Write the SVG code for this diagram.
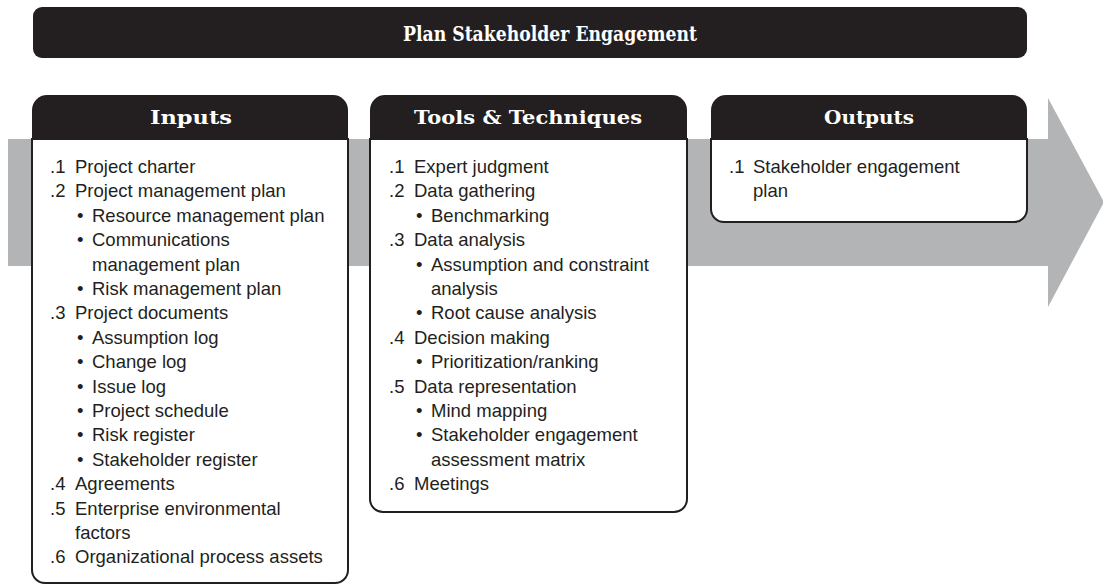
<svg xmlns="http://www.w3.org/2000/svg" width="1103" height="585" viewBox="0 0 1103 585">
<style>
.dark{fill:#231f20}
.body{fill:#ffffff;stroke:#231f20;stroke-width:2}
.ttl{font-family:"DejaVu Serif","Liberation Serif",serif;font-weight:bold;fill:#ffffff;text-anchor:middle}
.t{font-family:"Liberation Sans",Arial,sans-serif;font-size:18.5px;fill:#231f20}
</style>
<rect width="1103" height="585" fill="#ffffff"/>
<g id="flow-arrow">
<path d="M8,139 H1048 V98 L1104,202 L1048,307 V266 H8 Z" fill="#b3b4b6"/>
</g>
<g id="title">
<rect x="33" y="7" width="994" height="51" rx="9" class="dark"/>
<text x="550" y="41" class="ttl" font-size="21" textLength="294" lengthAdjust="spacingAndGlyphs">Plan Stakeholder Engagement</text>
</g>
<g id="inputs">
<path d="M32,139 V570 A13,13 0 0 0 45,583 H335 A13,13 0 0 0 348,570 V139 Z" class="body"/>
<path d="M32,140 V110 A15,15 0 0 1 47,95 H333 A15,15 0 0 1 348,110 V140 Z" class="dark"/>
<text x="191" y="124" class="ttl" font-size="19" textLength="82" lengthAdjust="spacingAndGlyphs">Inputs</text>
<text class="t">
<tspan x="50" y="173">.1</tspan><tspan x="75" y="173">Project charter</tspan>
<tspan x="50" y="197.4">.2</tspan><tspan x="75" y="197.4">Project management plan</tspan>
<tspan x="77" y="221.8">•</tspan><tspan x="92" y="221.8">Resource management plan</tspan>
<tspan x="77" y="246.2">•</tspan><tspan x="92" y="246.2">Communications</tspan>
<tspan x="92" y="270.6">management plan</tspan>
<tspan x="77" y="295">•</tspan><tspan x="92" y="295">Risk management plan</tspan>
<tspan x="50" y="319.4">.3</tspan><tspan x="75" y="319.4">Project documents</tspan>
<tspan x="77" y="343.8">•</tspan><tspan x="92" y="343.8">Assumption log</tspan>
<tspan x="77" y="368.2">•</tspan><tspan x="92" y="368.2">Change log</tspan>
<tspan x="77" y="392.6">•</tspan><tspan x="92" y="392.6">Issue log</tspan>
<tspan x="77" y="417">•</tspan><tspan x="92" y="417">Project schedule</tspan>
<tspan x="77" y="441.4">•</tspan><tspan x="92" y="441.4">Risk register</tspan>
<tspan x="77" y="465.8">•</tspan><tspan x="92" y="465.8">Stakeholder register</tspan>
<tspan x="50" y="490.2">.4</tspan><tspan x="75" y="490.2">Agreements</tspan>
<tspan x="50" y="514.6">.5</tspan><tspan x="75" y="514.6">Enterprise environmental</tspan>
<tspan x="75" y="539">factors</tspan>
<tspan x="50" y="563.4">.6</tspan><tspan x="75" y="563.4">Organizational process assets</tspan>
</text>
</g>
<g id="tools">
<path d="M370,139 V499 A13,13 0 0 0 383,512 H674 A13,13 0 0 0 687,499 V139 Z" class="body"/>
<path d="M370,140 V110 A15,15 0 0 1 385,95 H672 A15,15 0 0 1 687,110 V140 Z" class="dark"/>
<text x="528" y="124" class="ttl" font-size="19" textLength="228" lengthAdjust="spacingAndGlyphs">Tools &amp; Techniques</text>
<text class="t">
<tspan x="389" y="173">.1</tspan><tspan x="414" y="173">Expert judgment</tspan>
<tspan x="389" y="197.4">.2</tspan><tspan x="414" y="197.4">Data gathering</tspan>
<tspan x="416" y="221.8">•</tspan><tspan x="431" y="221.8">Benchmarking</tspan>
<tspan x="389" y="246.2">.3</tspan><tspan x="414" y="246.2">Data analysis</tspan>
<tspan x="416" y="270.6">•</tspan><tspan x="431" y="270.6">Assumption and constraint</tspan>
<tspan x="431" y="295">analysis</tspan>
<tspan x="416" y="319.4">•</tspan><tspan x="431" y="319.4">Root cause analysis</tspan>
<tspan x="389" y="343.8">.4</tspan><tspan x="414" y="343.8">Decision making</tspan>
<tspan x="416" y="368.2">•</tspan><tspan x="431" y="368.2">Prioritization/ranking</tspan>
<tspan x="389" y="392.6">.5</tspan><tspan x="414" y="392.6">Data representation</tspan>
<tspan x="416" y="417">•</tspan><tspan x="431" y="417">Mind mapping</tspan>
<tspan x="416" y="441.4">•</tspan><tspan x="431" y="441.4">Stakeholder engagement</tspan>
<tspan x="431" y="465.8">assessment matrix</tspan>
<tspan x="389" y="490.2">.6</tspan><tspan x="414" y="490.2">Meetings</tspan>
</text>
</g>
<g id="outputs">
<path d="M711,139 V209 A13,13 0 0 0 724,222 H1014 A13,13 0 0 0 1027,209 V139 Z" class="body"/>
<path d="M711,140 V110 A15,15 0 0 1 726,95 H1012 A15,15 0 0 1 1027,110 V140 Z" class="dark"/>
<text x="869" y="124" class="ttl" font-size="19" textLength="90" lengthAdjust="spacingAndGlyphs">Outputs</text>
<text class="t">
<tspan x="729" y="173">.1</tspan><tspan x="753" y="173">Stakeholder engagement</tspan>
<tspan x="753" y="197.4">plan</tspan>
</text>
</g>
</svg>
